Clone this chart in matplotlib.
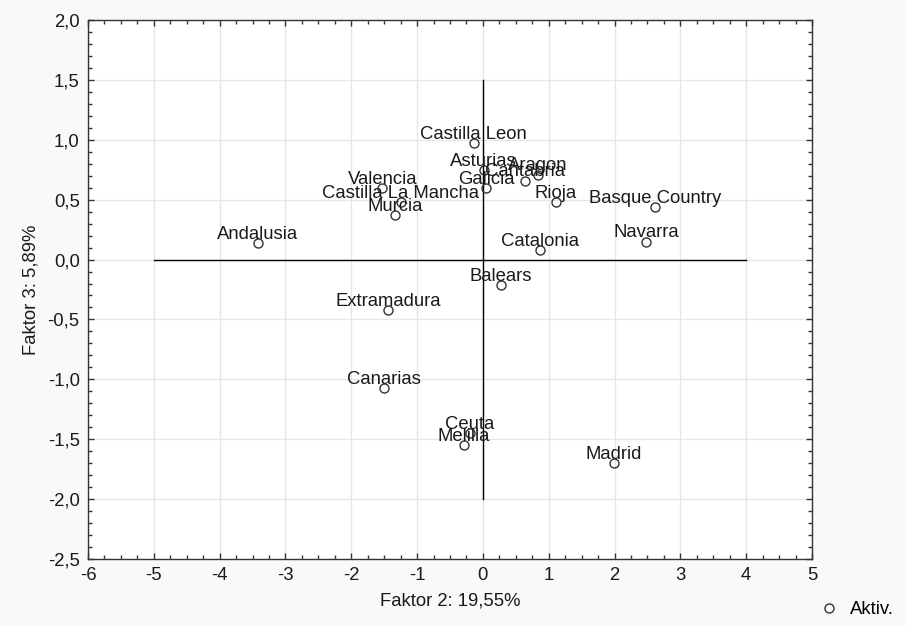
import matplotlib
matplotlib.use("Agg")
import matplotlib.pyplot as plt
from matplotlib.ticker import MultipleLocator, FuncFormatter
from matplotlib.lines import Line2D

plt.rcParams['font.family'] = ['Liberation Sans', 'DejaVu Sans']

# Factor scores of the Spanish regions
regions = ["Castilla Leon", "Asturias", "Aragon", "Cantabria", "Galicia", "Rioja",
           "Valencia", "Castilla La Mancha", "Murcia", "Basque Country", "Navarra",
           "Andalusia", "Catalonia", "Balears", "Extramadura", "Canarias",
           "Ceuta", "Melilla", "Madrid"]
faktor2 = [-0.14, 0.01, 0.83, 0.64, 0.05, 1.11,
           -1.53, -1.25, -1.34, 2.61, 2.48,
           -3.42, 0.86, 0.27, -1.44, -1.51,
           -0.20, -0.29, 1.99]
faktor3 = [0.97, 0.75, 0.71, 0.66, 0.60, 0.48,
           0.60, 0.48, 0.37, 0.44, 0.15,
           0.14, 0.08, -0.21, -0.42, -1.07,
           -1.45, -1.55, -1.70]

x_label = "Faktor 2: 19,55%"
y_label = "Faktor 3: 5,89%"
legend_label = "Aktiv."

fig = plt.figure(figsize=(9.06, 6.26), dpi=100, facecolor="#f9f9f9")
ax = fig.add_axes([88 / 906, 1 - 559 / 626, (812 - 88) / 906, (559 - 20) / 626])
ax.set_facecolor("white")

ax.set_xlim(-6, 5)
ax.set_ylim(-2.5, 2.0)

# reference cross through the origin
ax.plot([-5, 4], [0, 0], color="black", lw=1, zorder=2)
ax.plot([0, 0], [-2, 1.5], color="black", lw=1, zorder=2)

ax.plot(faktor2, faktor3, linestyle="none", marker="o", markersize=6.5,
        markerfacecolor="none", markeredgecolor="#333333", markeredgewidth=1,
        zorder=3)

for name, x, y in zip(regions, faktor2, faktor3):
    ax.annotate(name, (x, y), xytext=(0, 3), textcoords="offset points",
                ha="center", va="baseline", fontsize=13.3, color="#1a1a1a",
                zorder=4)

ax.xaxis.set_major_locator(MultipleLocator(1))
ax.xaxis.set_minor_locator(MultipleLocator(0.25))
ax.yaxis.set_major_locator(MultipleLocator(0.5))
ax.yaxis.set_minor_locator(MultipleLocator(0.1))
ax.xaxis.set_major_formatter(FuncFormatter(lambda v, p: f"{v:.0f}"))
ax.yaxis.set_major_formatter(FuncFormatter(lambda v, p: f"{v:.1f}".replace(".", ",").replace("-0,0", "0,0")))

ax.tick_params(which="both", direction="in", top=True, right=True,
               color="#333333", width=1)
ax.tick_params(which="major", length=4, labelsize=13.3, labelcolor="#1a1a1a", pad=6)
ax.tick_params(which="minor", length=3)

ax.grid(True, which="major", color="#e6e6e6", lw=1, zorder=0)
ax.set_axisbelow(True)
for s in ax.spines.values():
    s.set_color("#333333")
    s.set_linewidth(1)

ax.set_xlabel(x_label, fontsize=13.3, color="#1a1a1a", labelpad=6)
ax.set_ylabel(y_label, fontsize=13.3, color="#1a1a1a", labelpad=6)

handle = Line2D([], [], linestyle="none", marker="o", markersize=6.5,
                markerfacecolor="none", markeredgecolor="#333333", markeredgewidth=1)
fig.legend([handle], [legend_label], loc="center left",
           bbox_to_anchor=(0.905, 0.026), frameon=False, fontsize=13.3,
           handlelength=1.0, handletextpad=0.6, borderpad=0, borderaxespad=0)

fig.savefig("out.png", dpi=100, facecolor=fig.get_facecolor())
